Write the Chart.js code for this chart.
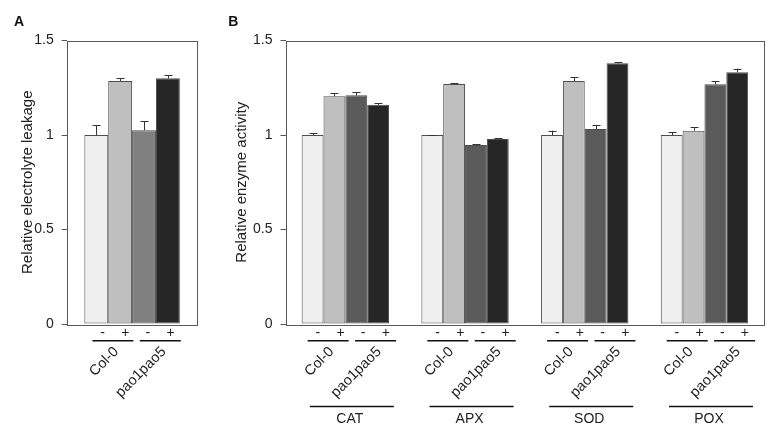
<!DOCTYPE html>
<html>
<head>
<meta charset="utf-8">
<script src="https://cdn.jsdelivr.net/npm/chart.js@4"></script>
<style>
    body { margin: 0; background: #fff; }
    #wrap { position: relative; width: 767px; height: 428px; }
    canvas { position: absolute; left: 0; top: 0; }
</style>
</head>
<body>
<div id="wrap">
    <canvas id="chartA" width="767" height="428"></canvas>
    <canvas id="chartB" width="767" height="428"></canvas>
</div>
<script>
// ---- data ----
const genotypes = ['Col-0', 'pao1pao5'];
const treatments = ['-', '+'];
const yTicks = [0, 0.5, 1, 1.5];

// panel A: relative electrolyte leakage (one value per genotype/treatment)
const leakage = [1.00, 1.286, 1.025, 1.300];
const leakageErr = [0.051, 0.014, 0.047, 0.017];

// panel B: relative enzyme activity
const enzymes = ['CAT', 'APX', 'SOD', 'POX'];
const colMinus = [1.000, 1.000, 1.000, 1.000];
const colMinusErr = [0.011, 0.000, 0.023, 0.016];
const colPlus = [1.205, 1.270, 1.286, 1.023];
const colPlusErr = [0.016, 0.003, 0.019, 0.018];
const paoMinus = [1.210, 0.947, 1.032, 1.268];
const paoMinusErr = [0.016, 0.003, 0.021, 0.018];
const paoPlus = [1.160, 0.979, 1.379, 1.332];
const paoPlusErr = [0.008, 0.005, 0.005, 0.019];

const FONT = "'Liberation Sans', Arial, sans-serif";
const INK = '#222';

// error bars, frame and the hand-made category labels under the axis
function decorPlugin(cfg) {
    return {
        id: 'decor',
        afterDatasetsDraw(chart) {
            const ctx = chart.ctx;
            const y = chart.scales.y;
            ctx.save();
            ctx.strokeStyle = '#333';
            ctx.lineWidth = 1;
            chart.data.datasets.forEach((ds, i) => {
                chart.getDatasetMeta(i).data.forEach((bar, j) => {
                    const top = y.getPixelForValue(ds.data[j] + ds.errors[j]);
                    const bx = Math.round(bar.x) + 0.5;
                    ctx.beginPath();
                    ctx.moveTo(bx, bar.y);
                    ctx.lineTo(bx, top);
                    ctx.moveTo(bx - 4, Math.round(top) + 0.5);
                    ctx.lineTo(bx + 4, Math.round(top) + 0.5);
                    ctx.stroke();
                });
            });
            ctx.restore();
        },
        afterDraw(chart) {
            const ctx = chart.ctx;
            const a = chart.chartArea;
            const x = chart.scales.x;
            ctx.save();

            // plot frame
            ctx.strokeStyle = '#595959';
            ctx.lineWidth = 1;
            ctx.strokeRect(Math.round(a.left) + 0.5, Math.round(a.top) + 0.5,
                Math.round(a.right - a.left) - 1, Math.round(a.bottom - a.top));

            // panel letter
            ctx.fillStyle = '#111';
            ctx.font = 'bold 14px ' + FONT;
            ctx.textAlign = 'center';
            ctx.textBaseline = 'middle';
            ctx.fillText(cfg.letter, cfg.letterX, 22.5);

            // y title
            ctx.fillStyle = INK;
            ctx.font = '15px ' + FONT;
            ctx.save();
            ctx.translate(cfg.titleX, (a.top + a.bottom) / 2);
            ctx.rotate(-Math.PI / 2);
            ctx.fillText(cfg.yTitle, 0, 0);
            ctx.restore();

            const offs = [-34, -11.3, 11.3, 34];
            chart.data.labels.forEach((lab, k) => {
                const c = x.getPixelForValue(k) + cfg.shift;
                ctx.strokeStyle = '#111';
                ctx.lineWidth = 1.4;
                genotypes.forEach((g, gi) => {
                    ctx.font = '14px ' + FONT;
                    ctx.textAlign = 'center';
                    ctx.textBaseline = 'middle';
                    treatments.forEach((t, ti) => {
                        ctx.fillText(t, c + offs[gi * 2 + ti], 333.5);
                    });
                    const pc = c + (gi === 0 ? -23.7 : 23.7);
                    ctx.beginPath();
                    ctx.moveTo(pc - 20.5, 340.7);
                    ctx.lineTo(pc + 20.5, 340.7);
                    ctx.stroke();

                    ctx.save();
                    ctx.translate(pc + 3.5, 349.5);
                    ctx.rotate(-Math.PI / 4);
                    ctx.textAlign = 'right';
                    ctx.font = '14.5px ' + FONT;
                    ctx.fillText(g, 0, 0);
                    ctx.restore();
                });
                if (cfg.groups) {
                    ctx.beginPath();
                    ctx.moveTo(c - 42, 406.5);
                    ctx.lineTo(c + 42, 406.5);
                    ctx.stroke();
                    ctx.font = '14px ' + FONT;
                    ctx.textAlign = 'center';
                    ctx.fillText(lab, c - 2, 419.5);
                }
            });
            ctx.restore();
        }
    };
}

function makeOptions(axisWidth, padRight) {
    return {
        responsive: false,
        animation: false,
        devicePixelRatio: 1,
        layout: { padding: { left: 0, right: padRight, top: 40.5, bottom: 104 } },
        plugins: { legend: { display: false }, tooltip: { enabled: false } },
        scales: {
            x: { display: false },
            y: {
                min: 0,
                max: 1.5,
                afterBuildTicks: scale => { scale.ticks = yTicks.map(v => ({ value: v })); },
                afterFit: scale => { scale.width = axisWidth; },
                border: { display: false },
                grid: { drawOnChartArea: false, tickLength: 5, color: '#555' },
                ticks: {
                    padding: 8,
                    color: INK,
                    font: { family: FONT, size: 14 },
                    callback: v => String(v)
                }
            }
        }
    };
}

const fills = ['#efefef', '#bfbfbf', '#808080', '#262626'];
const fillsB = ['#efefef', '#bfbfbf', '#5a5a5a', '#262626'];

function barSet(label, data, errors, color) {
    return {
        label: label,
        data: data,
        errors: errors,
        backgroundColor: color,
        borderColor: '#4d4d4d',
        borderWidth: 1,
        borderSkipped: false,
        categoryPercentage: 0.73,
        barPercentage: 1
    };
}

const seriesNames = ['Col-0 -', 'Col-0 +', 'pao1pao5 -', 'pao1pao5 +'];

new Chart(document.getElementById('chartA'), {
    type: 'bar',
    data: {
        labels: ['leakage'],
        datasets: leakage.map((v, i) => barSet(seriesNames[i], [v], [leakageErr[i]], fills[i]))
    },
    options: makeOptions(66.7, 569.5),
    plugins: [decorPlugin({ letter: 'A', letterX: 19, titleX: 27.5, yTitle: 'Relative electrolyte leakage', shift: 4.5, groups: false })]
});

new Chart(document.getElementById('chartB'), {
    type: 'bar',
    data: {
        labels: enzymes,
        datasets: [
            barSet(seriesNames[0], colMinus, colMinusErr, fillsB[0]),
            barSet(seriesNames[1], colPlus, colPlusErr, fillsB[1]),
            barSet(seriesNames[2], paoMinus, paoMinusErr, fillsB[2]),
            barSet(seriesNames[3], paoPlus, paoPlusErr, fillsB[3])
        ]
    },
    options: makeOptions(285.5, 2.7),
    plugins: [decorPlugin({ letter: 'B', letterX: 233.3, titleX: 242, yTitle: 'Relative enzyme activity', shift: 6.5, groups: true })]
});
</script>
</body>
</html>
